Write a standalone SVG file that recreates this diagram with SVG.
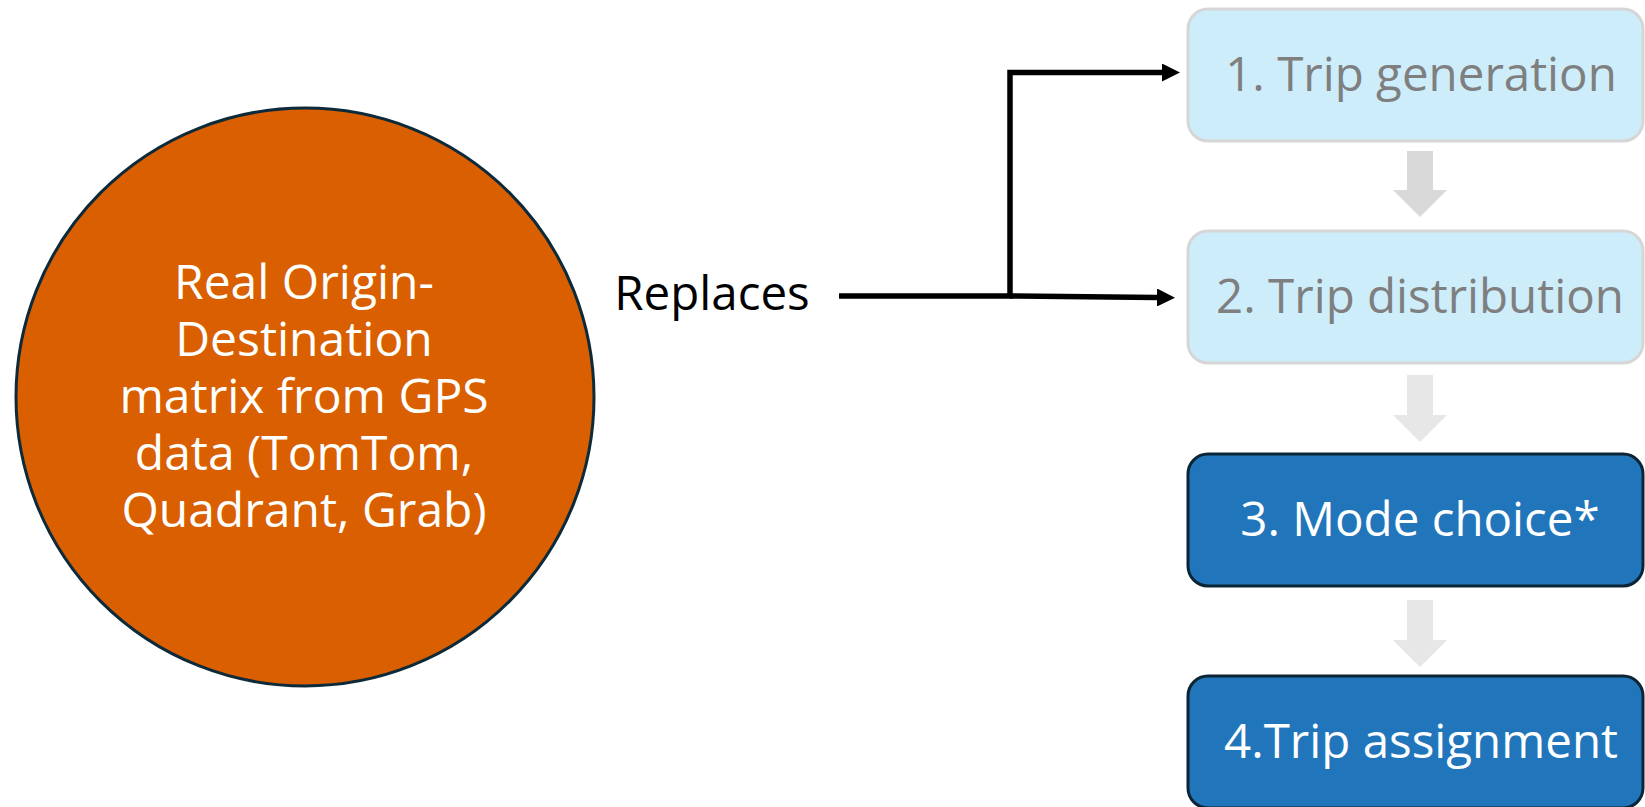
<svg xmlns="http://www.w3.org/2000/svg" width="1645" height="807" viewBox="0 0 1645 807">
<style>
.t{font-family:"Open Sans","Noto Sans","Liberation Sans",sans-serif;text-anchor:middle}
.light rect{fill:#cdedfb;stroke:#d6d6d6;stroke-width:3}
.light text{fill:#7f7f7f;font-size:47.5px}
.dark rect{fill:#2176bb;stroke:#0c2536;stroke-width:3}
.dark text{fill:#ffffff;font-size:47.5px}
.conn{fill:none;stroke:#000;stroke-width:5.5}
</style>
<defs>
<marker id="ah" viewBox="0 0 10 10" refX="0" refY="5" markerWidth="18" markerHeight="18" markerUnits="userSpaceOnUse" orient="auto">
<path d="M0,0 L10,5 L0,10 Z" fill="#000"/>
</marker>
</defs>
<rect width="1645" height="807" fill="#ffffff"/>
<g id="od-circle">
<circle cx="305" cy="397" r="289" fill="#d95f00" stroke="#0d2a3a" stroke-width="3"/>
<text class="t" fill="#ffffff" font-size="48" x="304"><tspan x="304" y="299">Real Origin-</tspan><tspan x="304" y="356">Destination</tspan><tspan x="304" y="413">matrix from GPS</tspan><tspan x="304" y="470">data (TomTom,</tspan><tspan x="304" y="527">Quadrant, Grab)</tspan></text>
</g>
<g id="replaces-label">
<text class="t" fill="#000" font-size="47.5" x="712" y="310">Replaces</text>
</g>
<g id="step1" class="light">
<rect x="1188" y="9" width="455" height="132" rx="20"/>
<text class="t" x="1421" y="91">1. Trip generation</text>
</g>
<g id="step2" class="light">
<rect x="1188" y="231" width="455" height="132" rx="20"/>
<text class="t" x="1420" y="313">2. Trip distribution</text>
</g>
<g id="step3" class="dark">
<rect x="1188" y="454" width="455" height="132" rx="20"/>
<text class="t" x="1420" y="536">3. Mode choice*</text>
</g>
<g id="step4" class="dark">
<rect x="1188" y="676" width="455" height="132" rx="20"/>
<text class="t" x="1421" y="758">4.Trip assignment</text>
</g>
<g id="connectors">
<path class="conn" d="M839,296 L1010,296 L1010,72.5 L1162,72.5" marker-end="url(#ah)"/>
<path class="conn" d="M1010,296 L1157,297.5" marker-end="url(#ah)"/>
<path d="M1407,151 H1433 V190 H1447 L1420,217 L1393,190 H1407 Z" fill="#d9d9d9"/>
<path d="M1407,375 H1433 V415 H1447 L1420,442 L1393,415 H1407 Z" fill="#e7e7e7"/>
<path d="M1407,600 H1433 V640 H1447 L1420,667 L1393,640 H1407 Z" fill="#e7e7e7"/>
</g>
</svg>
